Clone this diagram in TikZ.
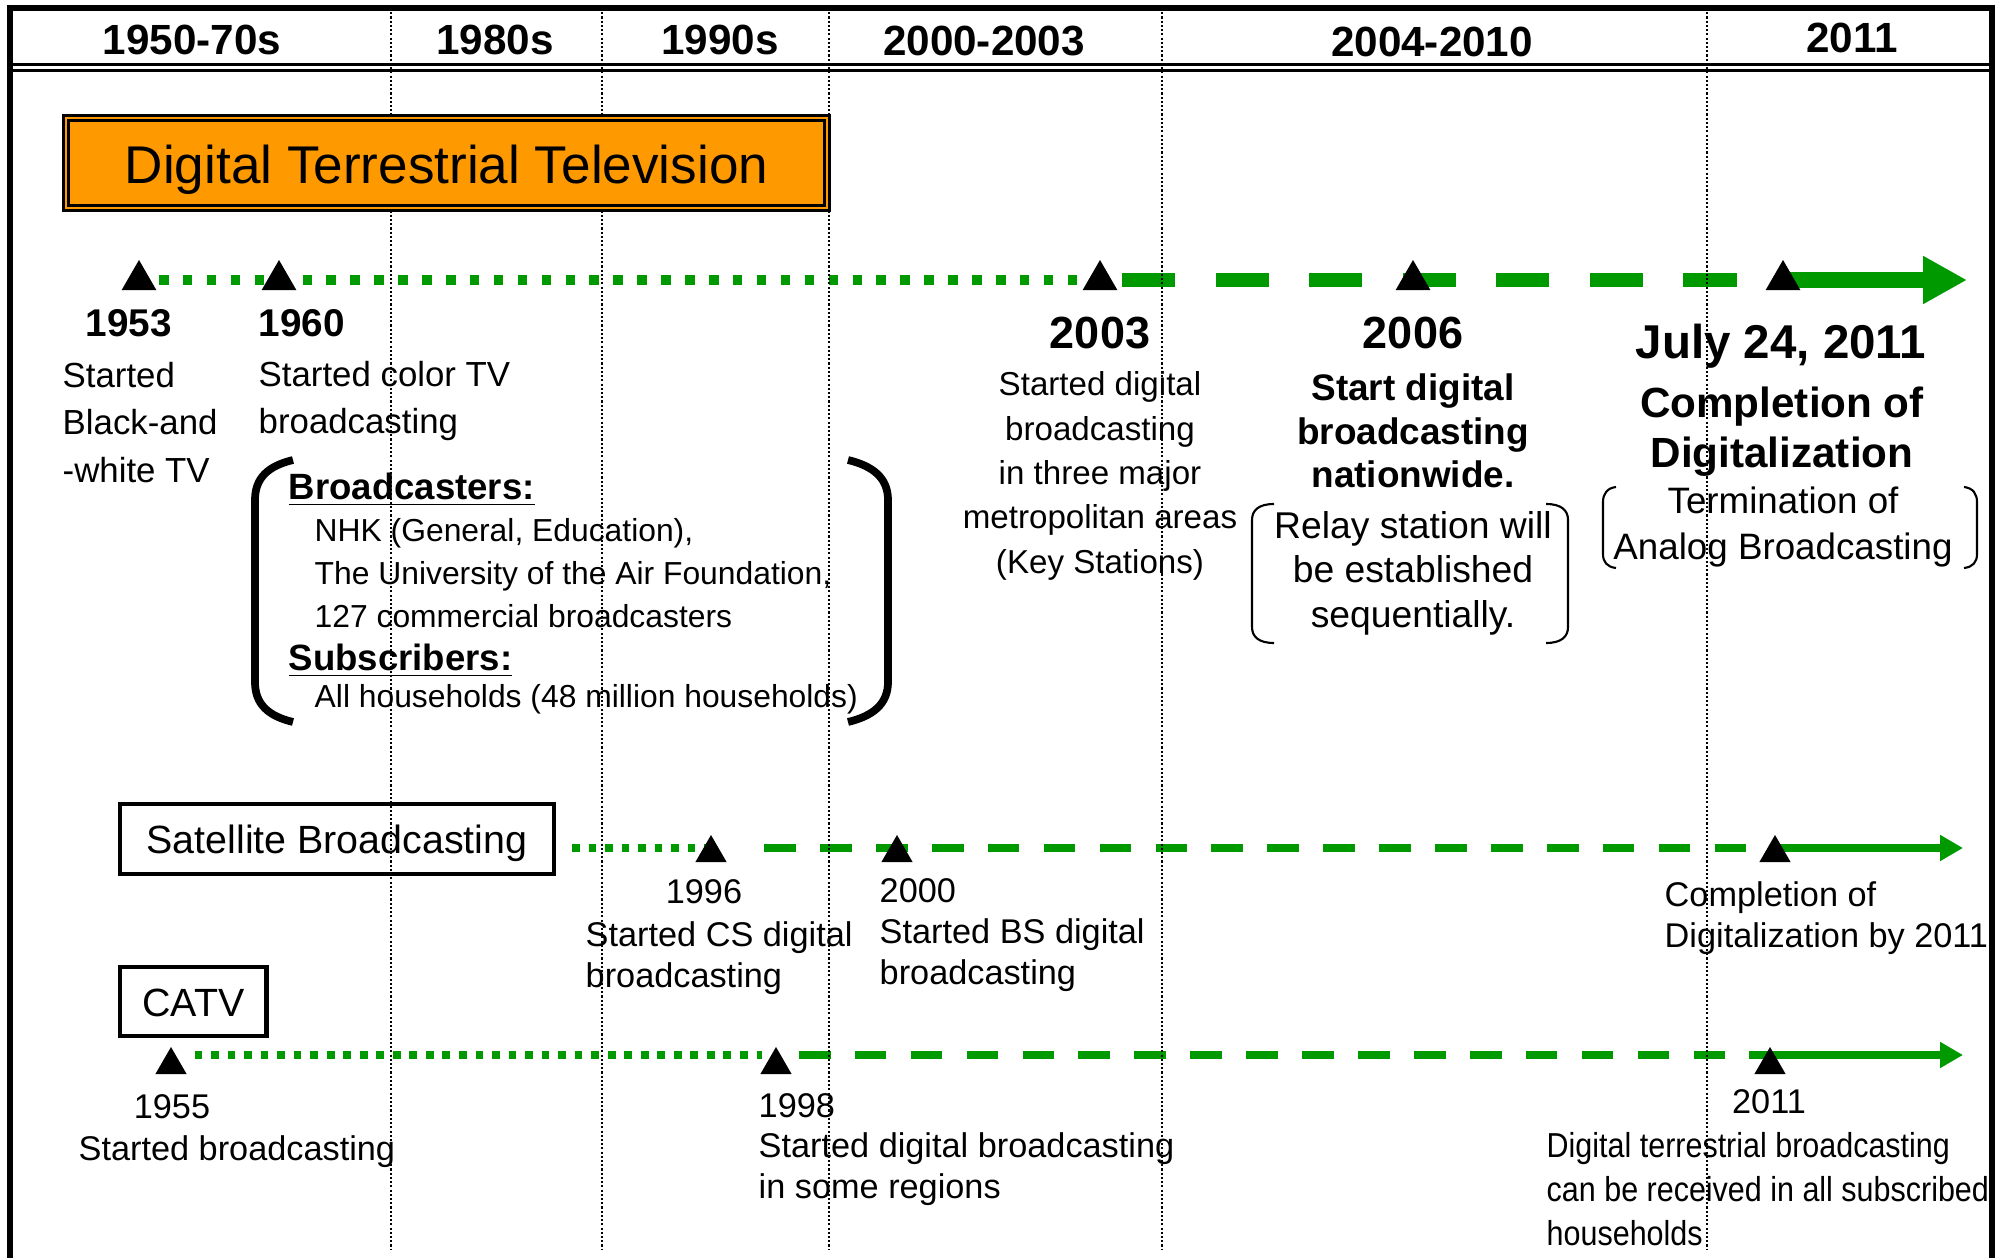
\documentclass[tikz,border=0pt]{standalone}
\usepackage{fontspec}
\setmainfont{Liberation Sans}
\newfontfamily\narrowfont[FakeStretch=0.88]{Liberation Sans}
\usetikzlibrary{arrows.meta,shapes.geometric}

\pgfdeclarelayer{background}
\pgfsetlayers{background,main}

\definecolor{tvgreen}{RGB}{0,153,0}
\definecolor{tvorange}{RGB}{255,153,0}

\begin{document}
\begin{tikzpicture}[x=0.01cm, y=-0.01cm, every node/.append style={inner sep=0pt}]
% ---------------------------------------------------------
% Dimensions (1 unit = 0.01cm, y runs downwards)
% ---------------------------------------------------------
\def\PicW{2009}     % picture width
\def\PicH{1258}     % picture height
\def\FrameL{10}     % left edge of the frame
\def\FrameR{1992}   % right edge of the frame
\def\FrameT{8}      % top edge of the frame
\def\RuleA{64.5}    % upper line of the header rule
\def\RuleB{70.5}    % lower line of the header rule
\def\GridB{1250}    % lower end of the decade lines
\def\TerrY{280}     % terrestrial time line
\def\SatY{848}      % satellite time line
\def\CatvY{1055}    % CATV time line
% note: multi-line labels are placed at the baseline of their LAST line

% ---------------------------------------------------------
% Styles
% ---------------------------------------------------------
\tikzset{
  frame line/.style={line width=1.5pt, line join=miter},
  header rule/.style={line width=0.8pt},
  decade line/.style={line width=0.5pt, dash pattern=on 0.6pt off 0.6pt},
  big mark/.style={regular polygon, regular polygon sides=3, fill=black,
    inner sep=0pt, minimum size=0.40cm},
  small mark/.style={big mark, minimum size=0.36cm},
  big dots/.style={color=tvgreen, line width=2.9pt, dash pattern=on 2.7pt off 4.1pt},
  big dashes/.style={color=tvgreen, line width=4pt, dash pattern=on 15.1pt off 11.5pt},
  big arrow/.style={color=tvgreen, line width=4.5pt,
    -{Triangle[length=12.5pt, width=12.8pt]}},
  small dots/.style={color=tvgreen, line width=2.2pt, dash pattern=on 2.2pt off 2.5pt},
  small dashes/.style={color=tvgreen, line width=2.3pt, dash pattern=on 9pt off 6.9pt},
  small arrow/.style={color=tvgreen, line width=2.3pt,
    -{Triangle[length=6.5pt, width=7pt]}},
  period text/.style={font=\bfseries\fontsize{12}{14}\selectfont, anchor=base},
  title box/.style={draw=black, line width=0.9pt, double=tvorange,
    double distance=0.5pt, fill=tvorange, inner sep=0pt,
    text height=11.4pt, text depth=0pt, font=\fontsize{15.1}{18}\selectfont},
  media box/.style={draw=black, line width=1.2pt, inner sep=0pt,
    text depth=0pt, font=\fontsize{11.2}{13}\selectfont},
  year text/.style={font=\bfseries\fontsize{11}{13}\selectfont},
  early text/.style={font=\fontsize{9.9}{13.5}\selectfont, align=left, anchor=base west},
  list head/.style={font=\bfseries\fontsize{10.4}{12}\selectfont, anchor=base west},
  list text/.style={font=\fontsize{9.05}{12.1}\selectfont, align=left, anchor=base west},
  paren/.style={line width=2.2pt},
  big year/.style={font=\bfseries\fontsize{12.8}{15}\selectfont, anchor=base},
  event text/.style={font=\fontsize{9.42}{12.6}\selectfont, align=center, anchor=base},
  event bold/.style={font=\bfseries\fontsize{10.5}{12.5}\selectfont, align=center, anchor=base},
  note text/.style={font=\fontsize{10.6}{12.65}\selectfont, align=center, anchor=base},
  note bracket/.style={line width=0.6pt},
  final year/.style={font=\bfseries\fontsize{13.5}{16}\selectfont, anchor=base},
  final text/.style={font=\bfseries\fontsize{12}{14.5}\selectfont, align=center, anchor=base},
  small text/.style={font=\fontsize{9.75}{11.6}\selectfont, align=left},
  narrow text/.style={font=\narrowfont\fontsize{9.85}{12.4}\selectfont,
    align=left, anchor=base west}
}

\useasboundingbox (0,0) rectangle (\PicW,\PicH);

% =========================================================
% 1) FRAME AND HEADER ROW
% =========================================================
\draw[frame line] (\FrameL,\PicH) -- (\FrameL,\FrameT) -- (\FrameR,\FrameT) -- (\FrameR,\PicH);
\draw[header rule] (\FrameL,\RuleA) -- (\FrameR,\RuleA);
\draw[header rule] (\FrameL,\RuleB) -- (\FrameR,\RuleB);

\node[period text] (p1) at (192,55) {1950-70s};
\node[period text] (p2) at (495,55) {1980s};
\node[period text] (p3) at (720,55) {1990s};
\node[period text] (p4) at (984,56) {2000-2003};
\node[period text] (p5) at (1432,57) {2004-2010};
\node[period text] (p6) at (1852,53) {2011};

% =========================================================
% 2) TIME LINE POINTS
% =========================================================
% terrestrial
\coordinate (t1953) at (139,\TerrY);
\coordinate (t1960) at (279,\TerrY);
\coordinate (t2003) at (1100,\TerrY);
\coordinate (t2006) at (1413,\TerrY);
\coordinate (t2011) at (1783,\TerrY);
\coordinate (tEnd)  at (1967,\TerrY);
% satellite
\coordinate (sStart) at (572,\SatY);
\coordinate (s1996)  at (711,\SatY);
\coordinate (s2000)  at (897,\SatY);
\coordinate (s2011)  at (1775,\SatY);
\coordinate (sEnd)   at (1963,\SatY);
% CATV
\coordinate (c1955) at (171,\CatvY);
\coordinate (c1998) at (776,\CatvY);
\coordinate (c2011) at (1770,\CatvY);
\coordinate (cEnd)  at (1963,\CatvY);

% =========================================================
% 3) GREEN TIME LINES + DECADE LINES (behind everything)
% =========================================================
\begin{pgfonlayer}{background}
  \draw[big dots, shorten <=5.7pt, shorten >=6.3pt] (t1953) -- (t2003);
  \draw[big dashes, shorten <=6.3pt, shorten >=3.7pt] (t2003) -- (t2011);
  \draw[big arrow] (t2011) -- (tEnd);

  \draw[small dots] (sStart) -- (s1996);
  \draw[small dashes, shorten <=15.1pt] (s1996) -- (s2011);
  \draw[small arrow] (s2011) -- (sEnd);

  \draw[small dots, shorten <=6.7pt, shorten >=4pt] (c1955) -- (c1998);
  \draw[small dashes, shorten <=6.5pt] (c1998) -- (c2011);
  \draw[small arrow] (c2011) -- (cEnd);

  \foreach \gx in {391,602,829,1162,1707}
    \draw[decade line] (\gx,\FrameT) -- (\gx,\GridB);
\end{pgfonlayer}

% triangles on the lines
\foreach \p in {1953,1960,2003,2006,2011}
  \node[big mark] (mt\p) at (t\p) {};
\foreach \p in {1996,2000,2011}
  \node[small mark, yshift=-0.05cm] (ms\p) at (s\p) {};
\foreach \p in {1955,1998,2011}
  \node[small mark, yshift=-0.10cm] (mc\p) at (c\p) {};

% =========================================================
% 4) DIGITAL TERRESTRIAL TELEVISION
% =========================================================
\node[title box, minimum width=7.61cm, minimum height=0.90cm] (dtt) at (446.5,163)
  {Digital Terrestrial Television};

\node[year text, anchor=base] (y1953) at (129,337) {1953};
\node[year text, anchor=base west] (y1960) at (258,337) {1960};
\node[early text] (d1953) at (62,482) {Started\\Black-and\\-white TV};
\node[early text] (d1960) at (258,434) {Started color TV\\broadcasting};

% bracketed list
\draw[paren] (293,460) .. controls (268,466) and (255,478) .. (255,500)
  -- (255,682) .. controls (255,704) and (268,716) .. (293,722);
\draw[paren] (848,460) .. controls (873,466) and (888,478) .. (888,500)
  -- (888,682) .. controls (888,704) and (873,716) .. (848,722);
\node[list head] (hbroad) at (288,499) {\underline{Broadcasters:}};
\node[list text] (lbroad) at (314,627)
  {NHK (General, Education),\\The University of the Air Foundation,\\127 commercial broadcasters};
\node[list head] (hsubs) at (288,670) {\underline{Subscribers:}};
\node[list text] (lsubs) at (314,707) {All households (48 million households)};

% 2003 and 2006
\node[big year] (y2003) at (1100,349) {2003};
\node[event text] (d2003) at (1100,573)
  {Started digital\\broadcasting\\in three major\\metropolitan areas\\(Key Stations)};
\node[big year] (y2006) at (1413,349) {2006};
\node[event bold] (d2006) at (1413,488) {Start digital\\broadcasting\\nationwide.};
\draw[note bracket] (1274,504) .. controls (1259,504) and (1252,510) .. (1252,520)
  -- (1252,627) .. controls (1252,637) and (1259,643) .. (1274,643);
\draw[note bracket] (1546,504) .. controls (1561,504) and (1568,510) .. (1568,520)
  -- (1568,627) .. controls (1568,637) and (1561,643) .. (1546,643);
\node[note text] (n2006) at (1413,627) {Relay station will\\be established\\sequentially.};

% 2011
\node[final year] (y2011) at (1781,359) {July 24, 2011};
\node[final text] (d2011) at (1782,468) {Completion of\\Digitalization};
\draw[note bracket] (1616,487) .. controls (1607,488) and (1603,494) .. (1603,502)
  -- (1603,554) .. controls (1603,562) and (1607,567) .. (1616,568);
\draw[note bracket] (1964,487) .. controls (1973,488) and (1977,494) .. (1977,502)
  -- (1977,554) .. controls (1977,562) and (1973,567) .. (1964,568);
\node[note text, font=\fontsize{10.45}{13.1}\selectfont] (n2011) at (1783,560)
  {Termination of\\Analog Broadcasting};

% =========================================================
% 5) SATELLITE BROADCASTING
% =========================================================
\node[media box, minimum width=4.34cm, minimum height=0.70cm, text height=8pt]
  (satbox) at (337,839) {Satellite Broadcasting};
\node[small text, anchor=base] (y1996) at (704,903) {1996};
\node[small text, anchor=base west] (d1996) at (585,987) {Started CS digital\\broadcasting};
\node[small text, anchor=base west] (y2000) at (879,902) {2000};
\node[small text, anchor=base west] (d2000) at (879,984) {Started BS digital\\broadcasting};
\node[small text, anchor=base west] (ds2011) at (1664,947) {Completion of\\Digitalization by 2011};

% =========================================================
% 6) CATV
% =========================================================
\node[media box, minimum width=1.465cm, minimum height=0.69cm, text height=8.8pt]
  (catvbox) at (193.3,1001.5) {CATV};
\node[small text, anchor=base] (y1955) at (172,1118) {1955};
\node[small text, anchor=base west] (d1955) at (78,1160) {Started broadcasting};
\node[small text, anchor=base west] (y1998) at (758,1117) {1998};
\node[small text, anchor=base west] (d1998) at (758,1198)
  {Started digital broadcasting\\in some regions};
\node[small text, anchor=base] (yc2011) at (1769,1113) {2011};
\node[narrow text] (dc2011) at (1546,1245)
  {Digital terrestrial broadcasting\\can be received in all subscribed\\households};

\end{tikzpicture}
\end{document}
